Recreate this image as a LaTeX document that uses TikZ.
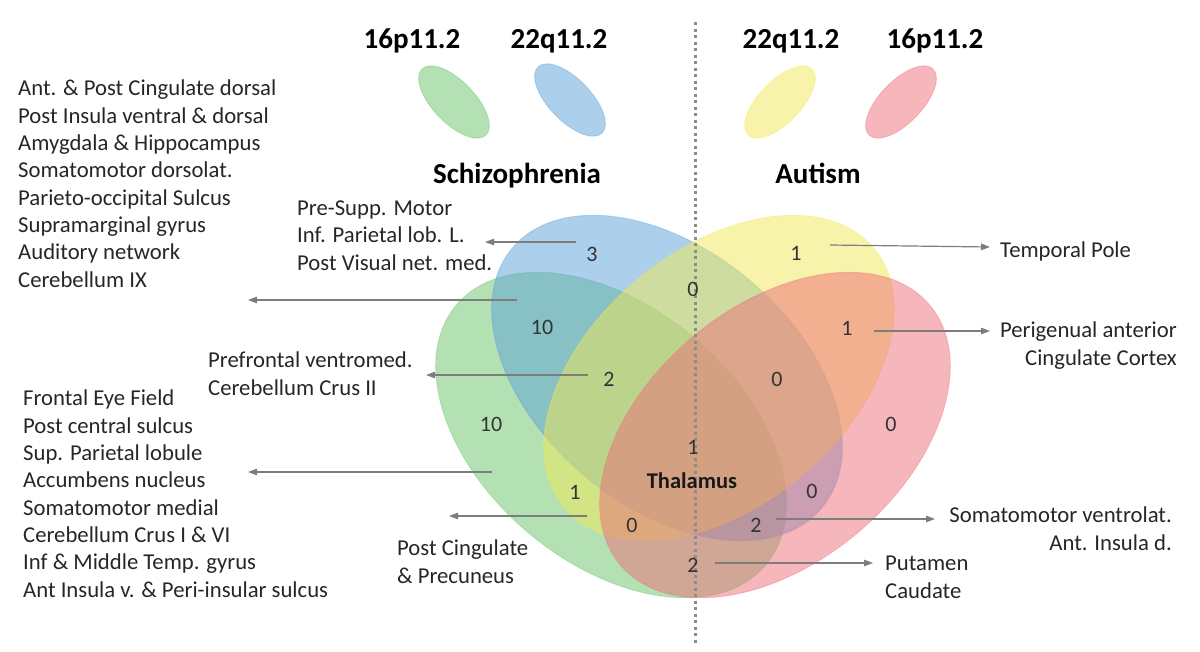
\documentclass[tikz,border=0pt]{standalone}
\usepackage{fontspec}
\setmainfont{Carlito}
\usetikzlibrary{arrows.meta}

\definecolor{vgreen}{RGB}{105,195,105}
\definecolor{vblue}{RGB}{90,160,215}
\definecolor{vyellow}{RGB}{242,232,85}
\definecolor{vpink}{RGB}{236,110,122}
\definecolor{arrgray}{RGB}{125,125,125}
\definecolor{dotgray}{RGB}{140,140,140}

\begin{document}
\begin{tikzpicture}[x=1pt,y=-1pt,
		lbl/.style={font=\fontsize{22.7}{27.3}\selectfont, text=black!85, inner sep=0pt},
		num/.style={font=\fontsize{22}{24}\selectfont, text=black!80, inner sep=0pt},
		head/.style={font=\fontsize{29}{32}\selectfont\bfseries, inner sep=0pt},
		pointer/.style={arrgray, line width=1.2pt, -{Triangle[length=9pt,width=6.5pt]}},
		setfill/.style={fill=#1, fill opacity=0.5, draw=#1, draw opacity=0.35, line width=1pt}]
		\useasboundingbox (0,0) rectangle (1200,651);
		%kleine ellipsen oben
		\coordinate (sg) at (454,102);
		\coordinate (sb) at (570,100);
		\coordinate (sy) at (780,102);
		\coordinate (sp) at (901,102);
		\filldraw[setfill=vgreen, rotate around={-46:(sg)}] (sg) ellipse (46 and 21);
		\filldraw[setfill=vblue, rotate around={-46:(sb)}] (sb) ellipse (46 and 21);
		\filldraw[setfill=vyellow, rotate around={46:(sy)}] (sy) ellipse (46 and 21);
		\filldraw[setfill=vpink, rotate around={46:(sp)}] (sp) ellipse (46 and 21);
		\node[head, anchor=base] (g16) at (412,48) {16p11.2};
		\node[head, anchor=base] (g22) at (559,48) {22q11.2};
		\node[head, anchor=base] (a22) at (791,48) {22q11.2};
		\node[head, anchor=base] (a16) at (935,48) {16p11.2};
		\node[head, anchor=base] (scz) at (517,183) {Schizophrenia};
		\node[head, anchor=base] (aut) at (818,183) {Autism};
		%venn
		\coordinate (cg) at (611,435);
		\coordinate (cb) at (667,378);
		\coordinate (cy) at (719,378);
		\coordinate (cp) at (775,435);
		\filldraw[setfill=vgreen, rotate around={-40:(cg)}] (cg) ellipse (202 and 128);
		\filldraw[setfill=vblue, rotate around={-40:(cb)}] (cb) ellipse (202 and 128);
		\filldraw[setfill=vyellow, rotate around={40:(cy)}] (cy) ellipse (202 and 128);
		\filldraw[setfill=vpink, rotate around={40:(cp)}] (cp) ellipse (202 and 128);
		%trennlinie
		\coordinate (top) at (695,22);
		\coordinate (bot) at (695,645);
		\draw[dotgray, line width=3pt, dash pattern=on 3pt off 3.5pt] (top) -- (bot);
		%zahlen
		\node[num] (n3) at (592,254) {3};
		\node[num] (n0a) at (693,289) {0};
		\node[num] (n1a) at (796,253) {1};
		\node[num] (n10a) at (542,327) {10};
		\node[num] (n1b) at (847,328) {1};
		\node[num] (n2a) at (609,379) {2};
		\node[num] (n0b) at (777,379) {0};
		\node[num] (n10b) at (491,424) {10};
		\node[num] (n0c) at (891,424) {0};
		\node[num] (n1c) at (693,447) {1};
		\node[num, font=\fontsize{22.5}{24}\selectfont\bfseries, text=black!90, anchor=base] (thal) at (692,488) {Thalamus};
		\node[num] (n1d) at (575,492) {1};
		\node[num] (n0d) at (812,491) {0};
		\node[num] (n0e) at (632,525) {0};
		\node[num] (n2b) at (756,525) {2};
		\node[num] (n2c) at (693,565) {2};
		%beschriftung links
		\node[lbl, anchor=base west, align=left] (lt) at (18,287) {Ant. \& Post Cingulate dorsal\\Post Insula ventral \& dorsal\\Amygdala \& Hippocampus\\Somatomotor dorsolat.\\Parieto-occipital Sulcus\\Supramarginal gyrus\\Auditory network\\Cerebellum IX};
		\node[lbl, anchor=base west, align=left] (lb) at (23,597) {Frontal Eye Field\\Post central sulcus\\Sup. Parietal lobule\\Accumbens nucleus\\Somatomotor medial\\Cerebellum Crus I \& VI\\Inf \& Middle Temp. gyrus\\Ant Insula v. \& Peri-insular sulcus};
		\node[lbl, anchor=base west, align=left] (psm) at (297,270) {Pre-Supp. Motor\\Inf. Parietal lob. L.\\Post Visual net. med.};
		\node[lbl, anchor=base west, align=left] (pfv) at (208,395) {Prefrontal ventromed.\\Cerebellum Crus II};
		\node[lbl, anchor=base west, align=left] (pcp) at (397,583) {Post Cingulate\\\& Precuneus};
		%beschriftung rechts
		\node[lbl, anchor=base west] (tpo) at (1000,257) {Temporal Pole};
		\node[lbl, anchor=base east, align=right] (pacc) at (1177,365) {Perigenual anterior\\Cingulate Cortex};
		\node[lbl, anchor=base east, align=right] (smv) at (1172,550) {Somatomotor ventrolat.\\Ant. Insula d.};
		\node[lbl, anchor=base west, align=left] (put) at (885,598) {Putamen\\Caudate};
		%pfeile
		\coordinate (p1s) at (576,242); \coordinate (p1e) at (485,242);
		\coordinate (p2s) at (517,300); \coordinate (p2e) at (248,300);
		\coordinate (p3s) at (588,375); \coordinate (p3e) at (426,375);
		\coordinate (p4s) at (492,472); \coordinate (p4e) at (248,472);
		\coordinate (p5s) at (587,516); \coordinate (p5e) at (449,516);
		\coordinate (p6s) at (830,245); \coordinate (p6e) at (990,247);
		\coordinate (p7s) at (874,331); \coordinate (p7e) at (990,331);
		\coordinate (p8s) at (776,519); \coordinate (p8e) at (935,519);
		\coordinate (p9s) at (715,563); \coordinate (p9e) at (873,563);
		\foreach \s/\e in {p1s/p1e,p2s/p2e,p3s/p3e,p4s/p4e,p5s/p5e,p6s/p6e,p7s/p7e,p8s/p8e,p9s/p9e}
			\draw[pointer] (\s) -- (\e);
	\end{tikzpicture}
\end{document}
